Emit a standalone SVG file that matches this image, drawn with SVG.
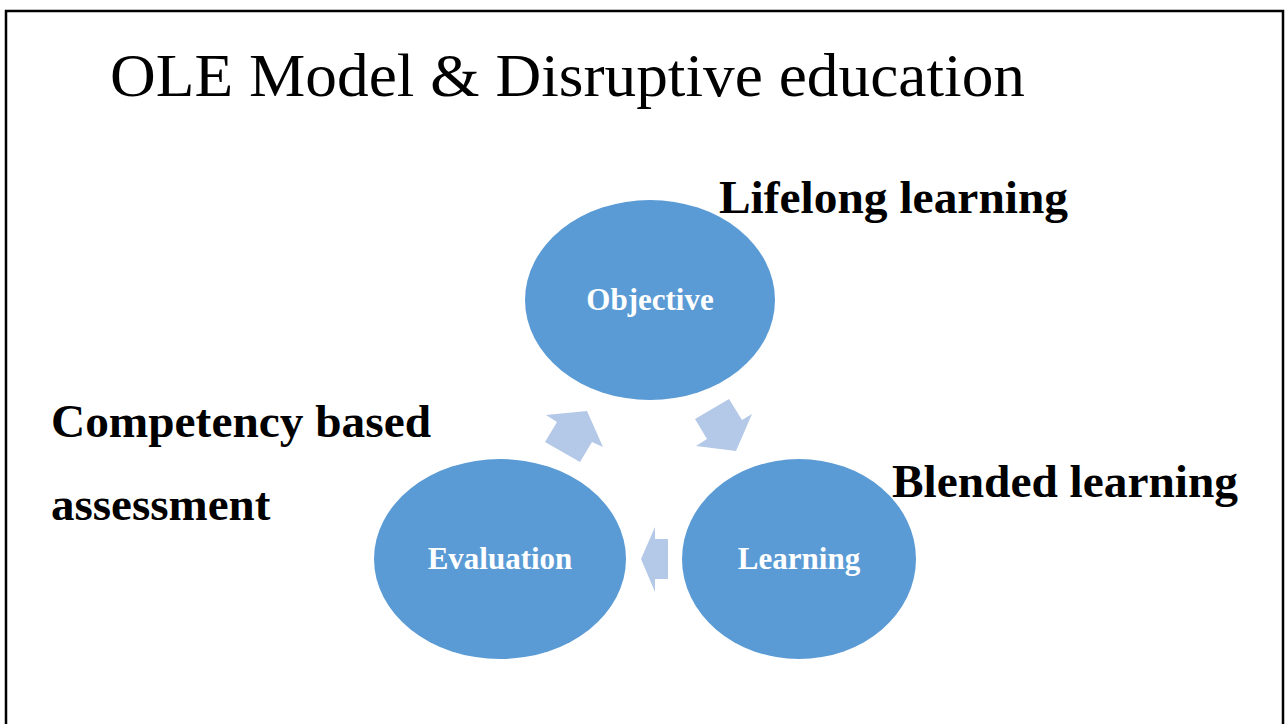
<svg xmlns="http://www.w3.org/2000/svg" width="1285" height="724" viewBox="0 0 1285 724">
<style>
.node{fill:#5B9BD5;}
.nl{font-family:"Liberation Serif",serif;font-weight:bold;font-size:31px;fill:#fff;text-anchor:middle;}
.lab{font-family:"Liberation Serif",serif;font-weight:bold;font-size:47px;fill:#000;}
.arr{fill:#B4C8E7;}
</style>
<rect x="0" y="0" width="1285" height="724" fill="#fff"/>
<path d="M6 730 V11 H1283 V730" fill="none" stroke="#000" stroke-width="2.5"/>
<text x="110" y="96" font-family="Liberation Serif, serif" font-size="62" fill="#000" textLength="915" lengthAdjust="spacingAndGlyphs">OLE Model &amp; Disruptive education</text>
<g id="connectors">
<polygon class="arr" points="557,422 546,415 587,411 603,447 592,442 580,462 545,442"/>
<polygon class="arr" points="729,399 742,420 752,414 736,451 696,446 707,439 695,419"/>
<polygon class="arr" points="668,539 655,539 655,527 641,559 655,592 655,579 668,579"/>
</g>
<g id="objective">
<ellipse class="node" cx="650" cy="300" rx="125" ry="100"/>
<text class="nl" x="650" y="310">Objective</text>
</g>
<g id="learning">
<ellipse class="node" cx="799" cy="559" rx="117" ry="100"/>
<text class="nl" x="799" y="569">Learning</text>
</g>
<g id="evaluation">
<ellipse class="node" cx="500" cy="559" rx="126" ry="100"/>
<text class="nl" x="500" y="569">Evaluation</text>
</g>
<g id="labels">
<text class="lab" x="719" y="213" textLength="349" lengthAdjust="spacingAndGlyphs">Lifelong learning</text>
<text class="lab" x="892" y="497" textLength="346" lengthAdjust="spacingAndGlyphs">Blended learning</text>
<text class="lab" x="51" y="437" textLength="380" lengthAdjust="spacingAndGlyphs">Competency based</text>
<text class="lab" x="51" y="520">assessment</text>
</g>
</svg>
